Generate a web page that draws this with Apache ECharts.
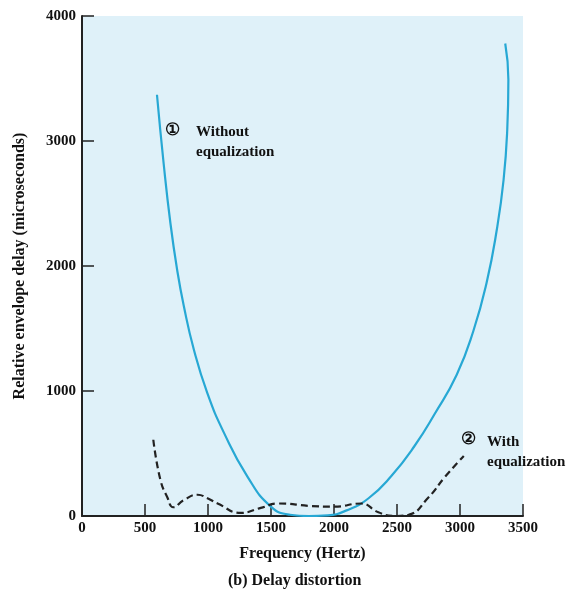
<!DOCTYPE html>
<html>
<head>
<meta charset="utf-8">
<script src="https://cdn.jsdelivr.net/npm/echarts@6/dist/echarts.min.js"></script>
<style>
  html, body { margin: 0; padding: 0; background: #fff; }
  #chart { width: 579px; height: 595px; }
</style>
</head>
<body>
<div id="chart"></div>
<script>
// delay curves: [frequency Hz, delay microseconds]
const withoutEq = [
  [595, 3370], [648, 2820], [702, 2340], [755, 1970], [808, 1680], [888, 1330],
  [994, 985], [1127, 665], [1313, 315], [1499, 75], [1650, 10], [1800, 0],
  [1950, 5], [2100, 45], [2272, 140], [2455, 320], [2639, 560], [2801, 820],
  [2974, 1130], [3106, 1480], [3212, 1870], [3292, 2290], [3346, 2690],
  [3375, 3090], [3384, 3490], [3359, 3780]
]
const withEq = [
  [566, 610], [622, 290], [677, 150], [725, 70], [805, 125], [917, 170],
  [1000, 140], [1076, 100], [1260, 25], [1419, 65], [1555, 100], [1818, 80],
  [2001, 75], [2216, 100], [2352, 30], [2480, 0], [2591, 10], [2751, 150],
  [2878, 310], [3030, 480]
]
const xTicks = [0, 3500, 500]   // min, max, interval
const yTicks = [0, 4000, 1000]

const font = 'Liberation Serif, DejaVu Serif, serif'
const chart = echarts.init(document.getElementById('chart'))

chart.setOption({
  animation: false,
  grid: {
    left: 82, right: 56, top: 16, bottom: 79,
    show: true, backgroundColor: '#dff1f9', borderWidth: 0
  },
  xAxis: {
    type: 'value',
    min: xTicks[0], max: xTicks[1], interval: xTicks[2],
    name: 'Frequency (Hertz)',
    nameLocation: 'middle', nameGap: 30,
    nameTextStyle: { fontFamily: font, fontWeight: 'bold', fontSize: 16, color: '#111' },
    axisLine: { lineStyle: { color: '#222', width: 2 } },
    axisTick: { inside: true, length: 12, lineStyle: { color: '#222', width: 1.5 } },
    axisLabel: {
      fontFamily: font, fontWeight: 'bold', fontSize: 15, color: '#111', margin: 5,
      formatter: v => String(v)
    },
    splitLine: { show: false }
  },
  yAxis: {
    type: 'value',
    min: yTicks[0], max: yTicks[1], interval: yTicks[2],
    name: 'Relative envelope delay (microseconds)',
    nameLocation: 'middle', nameGap: 54,
    nameTextStyle: { fontFamily: font, fontWeight: 'bold', fontSize: 16, color: '#111' },
    axisLine: { lineStyle: { color: '#222', width: 2 } },
    axisTick: { inside: true, length: 12, lineStyle: { color: '#222', width: 1.5 } },
    axisLabel: {
      fontFamily: font, fontWeight: 'bold', fontSize: 15, color: '#111', margin: 6,
      formatter: v => String(v)
    },
    splitLine: { show: false }
  },
  series: [
    {
      type: 'line', data: withoutEq, smooth: 0.5, symbol: 'none',
      lineStyle: { color: '#27a8d4', width: 2.2 }
    },
    {
      type: 'line', data: withEq, smooth: 0.5, symbol: 'none',
      lineStyle: { color: '#222', width: 2.2, type: [7, 4] }
    }
  ],
  graphic: [
    { type: 'text', left: 165, top: 122, style: { text: '①', font: 'bold 17px ' + font, fill: '#111' } },
    { type: 'text', left: 196, top: 122, style: { text: 'Without\nequalization', font: 'bold 15px ' + font, fill: '#111', lineHeight: 20 } },
    { type: 'text', left: 461, top: 431, style: { text: '②', font: 'bold 17px ' + font, fill: '#111' } },
    { type: 'text', left: 487, top: 432, style: { text: 'With\nequalization', font: 'bold 15px ' + font, fill: '#111', lineHeight: 20 } },
    { type: 'text', left: 228, top: 573, style: { text: '(b) Delay distortion', font: 'bold 16px ' + font, fill: '#111' } }
  ]
})
window.addEventListener('resize', () => chart.resize())
</script>
</body>
</html>
